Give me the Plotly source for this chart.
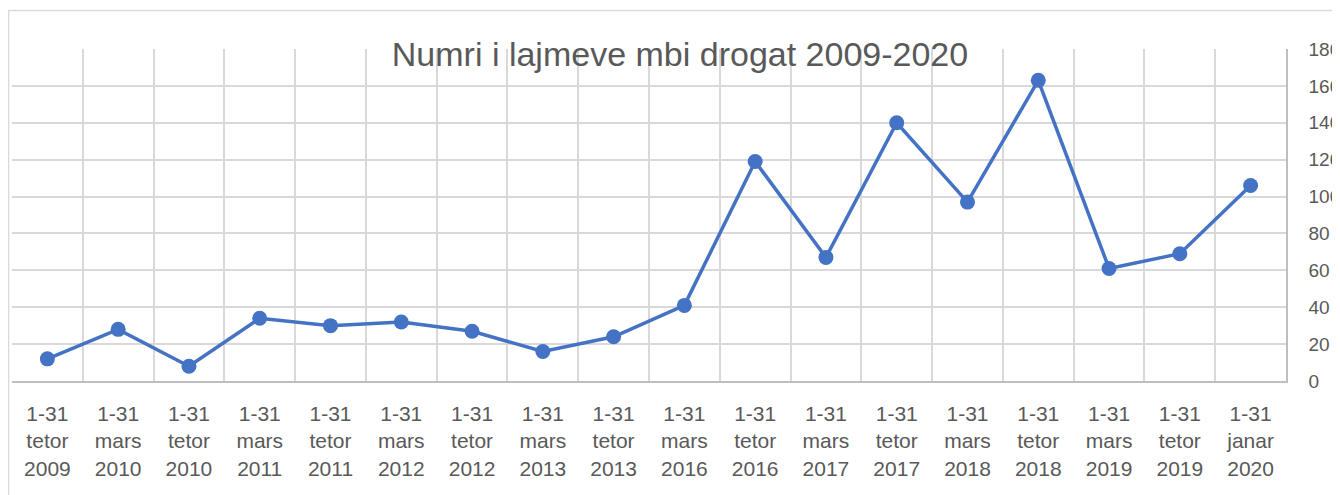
import plotly.graph_objects as go

categories = ["1-31<br>tetor<br>2009", "1-31<br>mars<br>2010", "1-31<br>tetor<br>2010",
              "1-31<br>mars<br>2011", "1-31<br>tetor<br>2011", "1-31<br>mars<br>2012",
              "1-31<br>tetor<br>2012", "1-31<br>mars<br>2013", "1-31<br>tetor<br>2013",
              "1-31<br>mars<br>2016", "1-31<br>tetor<br>2016", "1-31<br>mars<br>2017",
              "1-31<br>tetor<br>2017", "1-31<br>mars<br>2018", "1-31<br>tetor<br>2018",
              "1-31<br>mars<br>2019", "1-31<br>tetor<br>2019", "1-31<br>janar<br>2020"]
values = [12, 28, 8, 34, 30, 32, 27, 16, 24, 41, 119, 67, 140, 97, 163, 61, 69, 106]
title_text = "Numri i lajmeve mbi drogat 2009-2020"

W, H = 1340, 495
OFF = 8  # page body margin
ml, mr, mt, mb = 12 - OFF, 54 + OFF, 49 - OFF, 114 + OFF

fig = go.Figure()
fig.add_trace(go.Scatter(
    x=categories, y=values, mode="lines+markers",
    line=dict(color="#4472C4", width=3.5),
    marker=dict(color="#4472C4", size=15),
    cliponaxis=False,
))

pw = W - ml - mr
ph = H - mt - mb
fig.add_shape(type="rect", xref="paper", yref="paper",
              x0=(0.5 - ml) / pw, x1=(W + 20 - ml) / pw,
              y0=-(H + 20 - mt - ph) / ph, y1=(H - 2.5 - mb) / ph,
              line=dict(color="#d9d9d9", width=1.5), layer="below")

fig.update_layout(
    width=W, height=H,
    margin=dict(l=ml, r=mr, t=mt, b=mb, pad=0),
    paper_bgcolor="white", plot_bgcolor="white",
    showlegend=False,
    font=dict(family="Liberation Sans", color="#595959"),
    title=dict(text=title_text, x=(680 - OFF) / W, xanchor="center",
               y=1 - (54 - OFF) / H, yanchor="middle",
               font=dict(size=34, color="#595959")),
    xaxis=dict(type="category", tickson="boundaries", showgrid=True,
               gridcolor="#d9d9d9", gridwidth=1.5,
               showline=True, linecolor="#bfbfbf", linewidth=1.5,
               ticks="", tickfont=dict(size=21, color="#595959"),
               ticklabelstandoff=13, range=[-0.5, 17.5], mirror=False,
               zeroline=False, fixedrange=True),
    yaxis=dict(side="right", range=[0, 180], dtick=20, tick0=0,
               showgrid=True, gridcolor="#d9d9d9", gridwidth=1.5,
               showline=True, linecolor="#bfbfbf", linewidth=1.5,
               ticks="", tickfont=dict(size=19, color="#595959"),
               ticklabelstandoff=17, zeroline=False),
)

fig.write_html("out.html")
